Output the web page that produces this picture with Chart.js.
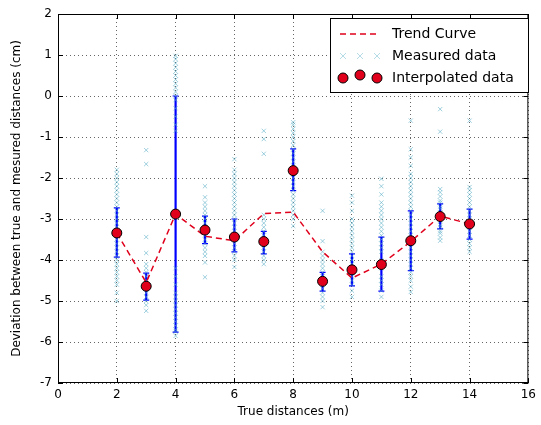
<!DOCTYPE html>
<html>
<head>
<meta charset="utf-8">
<script src="https://cdn.jsdelivr.net/npm/chart.js@4"></script>
<style>
  body { margin: 0; background: #fff; }
  #wrap { width: 541px; height: 425px; }
</style>
</head>
<body>
<div id="wrap"><canvas id="chart" width="541" height="425"></canvas></div>
<script>
// distancias y valores
const distances = [2, 3, 4, 5, 6, 7, 8, 9, 10, 11, 12, 13, 14];
const interpolated = [-3.34, -4.64, -2.88, -3.27, -3.44, -3.55, -1.82, -4.52, -4.24, -4.11, -3.53, -2.94, -3.12];
const trend = [-3.34, -4.55, -2.88, -3.42, -3.53, -2.87, -2.83, -3.8, -4.44, -4.1, -3.55, -2.93, -3.12];
const errLow = [-3.93, -4.98, -5.76, -3.6, -3.8, -3.85, -2.31, -4.76, -4.63, -4.76, -4.26, -3.24, -3.49];
const errHigh = [-2.73, -4.32, 0.0, -2.93, -3.0, -3.3, -1.29, -4.3, -3.85, -3.44, -2.8, -2.63, -2.76];

// datos medidos por distancia
const measured2 = [-1.8, -1.9, -2.0, -2.1, -2.2, -2.3, -2.4, -2.5, -2.6, -2.7, -2.8, -2.9, -3.0, -3.1, -3.2, -3.3, -3.4, -3.5, -3.6, -3.7, -3.8, -3.9, -4.0, -4.1, -4.2, -4.3, -4.4, -4.5, -4.6, -4.8, -5.0];
const measured3 = [-1.32, -1.66, -3.44, -3.83, -4.1, -4.2, -4.3, -4.4, -4.5, -4.6, -4.7, -4.8, -4.9, -5.0, -5.1, -5.24];
const measured4 = [0.98, 0.9, 0.8, 0.7, 0.6, 0.5, 0.4, 0.3, 0.2, 0.1, 0.0, -0.1, -0.3, -0.5, -0.7, -0.85, -4.2, -4.4, -4.6, -4.8, -4.9, -5.0, -5.1, -5.2, -5.3, -5.4, -5.5, -5.6, -5.7, -5.75, -5.85];
const measured5 = [-2.2, -2.47, -2.6, -2.7, -2.8, -2.9, -3.0, -3.1, -3.2, -3.3, -3.4, -3.5, -3.6, -3.7, -3.8, -3.9, -4.06, -4.42];
const measured6 = [-1.54, -1.8, -1.9, -2.0, -2.1, -2.2, -2.3, -2.4, -2.5, -2.6, -2.7, -2.8, -2.9, -3.0, -3.1, -3.2, -3.3, -3.4, -3.5, -3.6, -3.7, -3.8, -3.9, -4.0, -4.17];
const measured7 = [-0.85, -1.05, -1.41, -2.9, -3.0, -3.1, -3.2, -3.3, -3.4, -3.5, -3.6, -3.7, -3.8, -3.9, -4.0, -4.1];
const measured8 = [-0.64, -0.7, -0.8, -0.9, -1.0, -1.1, -1.2, -1.3, -1.4, -1.5, -1.6, -1.7, -1.8, -1.9, -2.0, -2.1, -2.2, -2.3, -2.4, -2.5, -2.6, -2.7, -2.8, -2.9, -3.0, -3.17];
const measured9 = [-2.8, -3.54, -3.8, -3.9, -4.0, -4.1, -4.2, -4.3, -4.4, -4.5, -4.6, -4.7, -4.8, -4.9, -5.0, -5.15];
const measured10 = [-2.43, -2.6, -2.8, -3.0, -3.1, -3.2, -3.3, -3.4, -3.5, -3.6, -3.7, -3.8, -3.9, -4.0, -4.1, -4.2, -4.3, -4.4, -4.5, -4.6, -4.75, -4.9];
const measured11 = [-2.02, -2.2, -2.4, -2.6, -2.7, -2.8, -2.9, -3.0, -3.1, -3.2, -3.3, -3.4, -3.5, -3.6, -3.7, -3.8, -4.0, -4.2, -4.4, -4.5, -4.6, -4.75, -4.9];
const measured12 = [-0.6, -1.3, -1.5, -1.7, -1.9, -2.0, -2.1, -2.2, -2.3, -2.4, -2.5, -2.6, -2.7, -2.8, -2.9, -3.0, -3.1, -3.2, -3.3, -3.4, -3.5, -3.6, -3.7, -3.8, -3.9, -4.0, -4.1, -4.2, -4.3, -4.4, -4.5, -4.65, -4.78];
const measured13 = [-0.32, -0.87, -2.27, -2.35, -2.45, -2.55, -2.6, -2.7, -2.75, -2.85, -2.9, -3.0, -3.05, -3.15, -3.2, -3.3, -3.35, -3.45, -3.53];
const measured14 = [-0.6, -2.22, -2.3, -2.4, -2.5, -2.6, -2.7, -2.8, -2.9, -3.0, -3.1, -3.2, -3.3, -3.4, -3.5, -3.6, -3.7, -3.8];
const measuredAll = [measured2, measured3, measured4, measured5, measured6, measured7, measured8,
  measured9, measured10, measured11, measured12, measured13, measured14];

const xTicks = [0, 2, 4, 6, 8, 10, 12, 14, 16];
const yTicks = [2, 1, 0, -1, -2, -3, -4, -5, -6, -7];
const legendLabels = ["Trend Curve", "Measured data", "Interpolated data"];

const measuredPoints = [];
measuredAll.forEach((vals, i) => {
  vals.forEach(v => measuredPoints.push({ x: distances[i], y: v }));
});

const FONT = "'DejaVu Sans', sans-serif";
const CYAN = "rgba(80,170,195,0.55)";

// barras de error, marco y leyenda
const extras = {
  id: "extras",
  beforeDatasetsDraw(chart) {
    const { ctx, scales: { x, y } } = chart;
    ctx.save();
    ctx.strokeStyle = "#0000ff";
    ctx.lineWidth = 2.2;
    distances.forEach((d, i) => {
      const px = x.getPixelForValue(d);
      const lo = y.getPixelForValue(errLow[i]);
      const hi = y.getPixelForValue(errHigh[i]);
      ctx.beginPath();
      ctx.moveTo(px, lo); ctx.lineTo(px, hi);
      ctx.stroke();
      ctx.lineWidth = 1.2;
      ctx.beginPath();
      ctx.moveTo(px - 3, lo); ctx.lineTo(px + 3, lo);
      ctx.moveTo(px - 3, hi); ctx.lineTo(px + 3, hi);
      ctx.stroke();
      ctx.lineWidth = 2.2;
    });
    ctx.restore();
  },
  afterDraw(chart) {
    const { ctx, chartArea: a } = chart;
    ctx.save();
    ctx.strokeStyle = "#000";
    ctx.lineWidth = 1;
    ctx.strokeRect(a.left + 0.5, a.top + 0.5, a.right - a.left - 1, a.bottom - a.top - 1);
    // ticks hacia adentro
    const { x, y } = chart.scales;
    ctx.beginPath();
    xTicks.forEach(t => {
      const px = Math.round(x.getPixelForValue(t)) + 0.5;
      ctx.moveTo(px, a.bottom); ctx.lineTo(px, a.bottom - 5);
      ctx.moveTo(px, a.top); ctx.lineTo(px, a.top + 5);
    });
    yTicks.forEach(t => {
      const py = Math.round(y.getPixelForValue(t)) + 0.5;
      ctx.moveTo(a.left, py); ctx.lineTo(a.left + 5, py);
      ctx.moveTo(a.right, py); ctx.lineTo(a.right - 5, py);
    });
    ctx.stroke();

    // leyenda
    const bx = 330, by = 18, bw = 198, bh = 74;
    ctx.fillStyle = "#fff";
    ctx.fillRect(bx, by, bw, bh);
    ctx.strokeRect(bx + 0.5, by + 0.5, bw, bh);
    ctx.font = "14px " + FONT;
    ctx.fillStyle = "#000";
    ctx.textBaseline = "middle";
    const rows = [by + 16, by + 38, by + 60];
    ctx.strokeStyle = "#e0001c";
    ctx.lineWidth = 1.5;
    ctx.setLineDash([6, 4]);
    ctx.beginPath(); ctx.moveTo(bx + 10, rows[0]); ctx.lineTo(bx + 50, rows[0]); ctx.stroke();
    ctx.setLineDash([]);
    ctx.strokeStyle = "rgba(110,185,205,0.5)";
    ctx.lineWidth = 1;
    [bx + 13, bx + 30, bx + 47].forEach(cx => {
      ctx.beginPath();
      ctx.moveTo(cx - 3, rows[1] - 3); ctx.lineTo(cx + 3, rows[1] + 3);
      ctx.moveTo(cx - 3, rows[1] + 3); ctx.lineTo(cx + 3, rows[1] - 3);
      ctx.stroke();
    });
    ctx.fillStyle = "#e0001c";
    ctx.strokeStyle = "#000";
    [bx + 13, bx + 30, bx + 47].forEach((cx, k) => {
      ctx.beginPath();
      ctx.arc(cx, rows[2] + (k === 1 ? -3 : 0), 5, 0, Math.PI * 2);
      ctx.fill(); ctx.stroke();
    });
    ctx.fillStyle = "#000";
    legendLabels.forEach((t, k) => ctx.fillText(t, bx + 62, rows[k]));
    ctx.restore();
  }
};

new Chart(document.getElementById("chart"), {
  type: "scatter",
  data: {
    datasets: [
      {
        label: "Interpolated data",
        data: distances.map((d, i) => ({ x: d, y: interpolated[i] })),
        pointRadius: 5,
        backgroundColor: "#e0001c",
        borderColor: "#000",
        borderWidth: 1,
        order: 1
      },
      {
        label: "Trend Curve",
        type: "line",
        data: distances.map((d, i) => ({ x: d, y: trend[i] })),
        borderColor: "#e0001c",
        borderWidth: 1.5,
        borderDash: [6, 4],
        pointRadius: 0,
        fill: false,
        order: 2
      },
      {
        label: "Measured data",
        data: measuredPoints,
        pointStyle: "crossRot",
        pointRadius: 3,
        borderColor: CYAN,
        borderWidth: 1,
        order: 3
      }
    ]
  },
  plugins: [extras],
  options: {
    responsive: false,
    animation: false,
    layout: { padding: { top: 14, right: 5, left: 10, bottom: 6 } },
    plugins: { legend: { display: false }, tooltip: { enabled: false } },
    scales: {
      x: {
        min: 0, max: 16,
        afterBuildTicks: s => { s.ticks = xTicks.map(v => ({ value: v })); },
        afterFit: s => { s.height = 36; },
        grid: { color: "rgba(0,0,0,0.6)", drawTicks: false },
        border: { display: false, dash: [1, 3] },
        ticks: { color: "#000", font: { family: FONT, size: 12 }, padding: 5 },
        title: { display: true, text: "True distances (m)", color: "#000", font: { family: FONT, size: 12 }, padding: 0 }
      },
      y: {
        min: -7, max: 2,
        afterBuildTicks: s => { s.ticks = yTicks.map(v => ({ value: v })); },
        afterFit: s => { s.width = 48; },
        grid: { color: "rgba(0,0,0,0.6)", drawTicks: false },
        border: { display: false, dash: [1, 3] },
        ticks: { color: "#000", font: { family: FONT, size: 12 }, padding: 6 },
        title: { display: true, text: "Deviation between true and mesured distances (cm)", color: "#000", font: { family: FONT, size: 12 }, padding: 0 }
      }
    }
  }
});
</script>
</body>
</html>
